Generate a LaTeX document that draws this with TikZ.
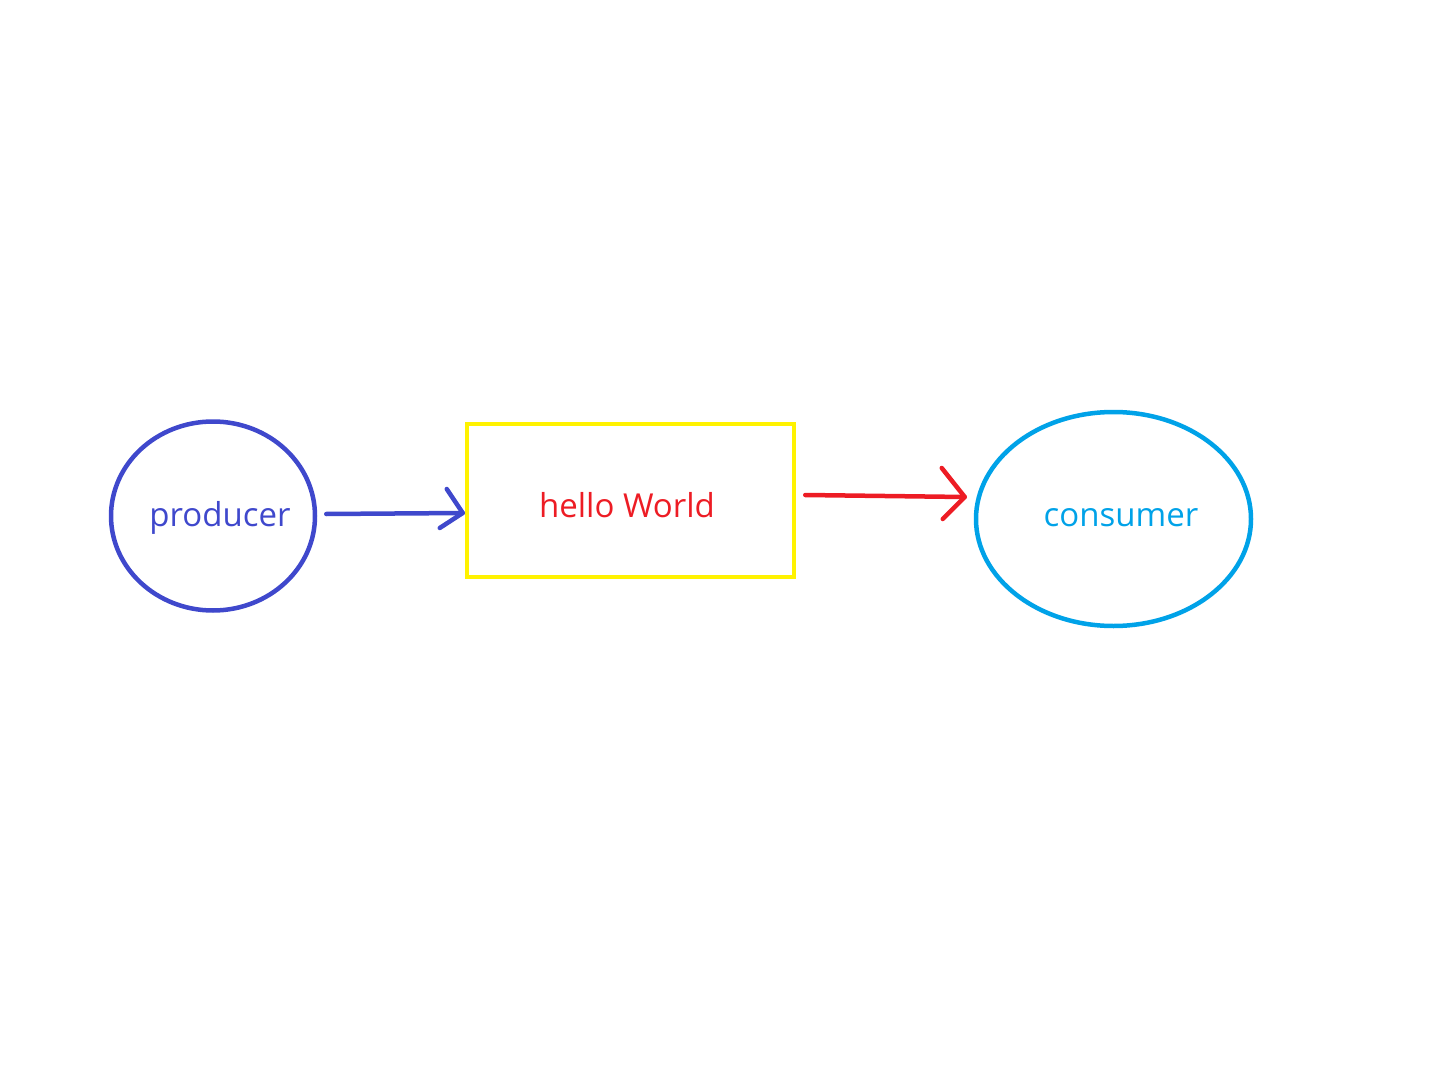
\documentclass[tikz,border=0pt]{standalone}
\usepackage{fontspec}
\setmainfont{Open Sans}
\usetikzlibrary{shapes.geometric}
\definecolor{prodblue}{HTML}{3F48CC}
\definecolor{msgred}{HTML}{ED1C24}
\definecolor{boxyellow}{HTML}{FFF200}
\definecolor{consblue}{HTML}{00A2E8}
\tikzset{
  shapeline/.style={line width=4.5pt},
  oval/.style={shapeline, ellipse, inner sep=0pt},
  lbl/.style={anchor=base, inner sep=0pt, font=\fontsize{33}{36}\selectfont},
  conn/.style={line width=4.5pt, line cap=round, line join=round}
}
\begin{document}
\begin{tikzpicture}[x=1pt,y=-1pt]
\useasboundingbox (0,0) rectangle (1430,1075);
\node[oval, draw=prodblue, minimum width=204pt, minimum height=189pt] (prod) at (213,516) {};
\node[lbl, text=prodblue] (prodtxt) at (220,526) {producer};
\node[shapeline, draw=boxyellow, minimum width=327pt, minimum height=153pt, inner sep=0pt] (box) at (630.5,500.5) {};
\node[lbl, text=msgred] (boxtxt) at (627,517) {hello World};
\node[oval, draw=consblue, minimum width=275pt, minimum height=214pt] (cons) at (1113.5,519) {};
\node[lbl, text=consblue] (constxt) at (1121,526) {consumer};
% producer -> box
\coordinate (a1s) at ([xshift=9pt,yshift=2pt]prod.east);
\coordinate (a1e) at ([xshift=-2pt,yshift=-12.5pt]box.west);
\draw[conn, prodblue] (a1s) -- (a1e);
\draw[conn, prodblue] ([xshift=-16pt,yshift=24pt]a1e) -- (a1e) -- ([xshift=-23pt,yshift=-15pt]a1e);
% box -> consumer
\coordinate (a2s) at ([xshift=9pt,yshift=5.5pt]box.east);
\coordinate (a2e) at ([xshift=-9pt,yshift=22pt]cons.west);
\draw[conn, msgred] (a2s) -- (a2e);
\draw[conn, msgred] ([xshift=-23pt,yshift=29pt]a2e) -- (a2e) -- ([xshift=-22pt,yshift=-22pt]a2e);
\end{tikzpicture}
\end{document}
